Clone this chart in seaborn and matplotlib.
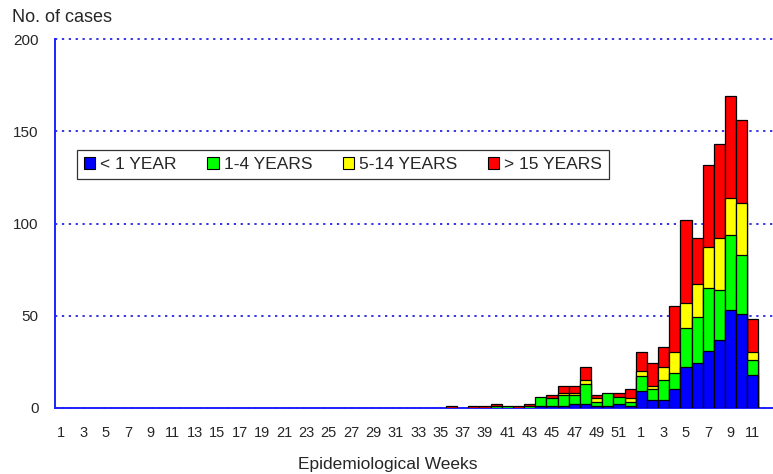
import numpy as np
import pandas as pd
import matplotlib
matplotlib.use('Agg')
import matplotlib.pyplot as plt
from matplotlib.patches import Patch
import seaborn as sns

# week labels: weeks 1-52 of the first year, then 1-12 of the next
weeks = [str(w) for w in range(1, 53)] + [str(w) for w in range(1, 13)]

# no cases at all during weeks 1-35
lead = [0] * 35
under_1 = lead + [0, 0, 0, 0, 0, 0, 0, 0, 1, 1, 1, 2, 2, 1, 1, 2, 1,
                  9, 4, 4, 10, 22, 24, 31, 37, 53, 51, 18, 0]
age_1_4 = lead + [0, 0, 0, 0, 1, 1, 0, 1, 5, 4, 6, 5, 11, 2, 7, 4, 2,
                  8, 6, 11, 9, 21, 25, 34, 27, 41, 32, 8, 0]
age_5_14 = lead + [0, 0, 0, 0, 0, 0, 0, 0, 0, 0, 1, 1, 2, 2, 0, 0, 2,
                   3, 2, 7, 11, 14, 18, 22, 28, 20, 28, 4, 0]
over_15 = lead + [1, 0, 1, 1, 1, 0, 1, 1, 0, 2, 4, 4, 7, 2, 0, 2, 5,
                  10, 12, 11, 25, 45, 25, 45, 51, 55, 45, 18, 0]

groups = ['< 1 YEAR', '1-4 YEARS', '5-14 YEARS', '> 15 YEARS']
colors = ['#0000ff', '#00ff00', '#ffff00', '#ff0000']

df = pd.DataFrame({'pos': np.arange(len(weeks)),
                   groups[0]: under_1, groups[1]: age_1_4,
                   groups[2]: age_5_14, groups[3]: over_15})
cum = df[groups].cumsum(axis=1)

sns.set_style('white')
plt.rcParams['font.family'] = ['Liberation Sans', 'DejaVu Sans']

fig = plt.figure(figsize=(7.73, 4.74), dpi=100)
ax = fig.add_axes([55.4 / 773, 66.3 / 474, (773 - 55.4) / 773, (407.7 - 39.3) / 474])

# draw from the top group down; each bar reaches the cumulative total of its group
for g, c in reversed(list(zip(groups, colors))):
    keep = df[g] > 0
    layer = pd.DataFrame({'pos': df['pos'][keep], 'cases': cum[g][keep]})
    sns.barplot(data=layer, x='pos', y='cases', native_scale=True, color=c,
                saturation=1, width=1, edgecolor='black', linewidth=0.9,
                errorbar=None, ax=ax, zorder=3)

ax.set_xlim(-0.5, 63.8)
ax.set_ylim(0, 200)
ax.set_xlabel('')
ax.set_ylabel('')

ax.set_xticks(np.arange(0, 64, 2))
ax.set_xticklabels(weeks[::2], fontsize=10.5)
ax.set_xticks(np.arange(-0.5, 64, 1), minor=True)
ax.tick_params(axis='x', which='major', length=0, pad=13.5)
ax.tick_params(axis='x', which='minor', length=4, width=1, color='#2020ff', direction='out')
ax.set_yticks([0, 50, 100, 150, 200])
ax.set_yticklabels(['0', '50', '100', '150', '200'], fontsize=11)
ax.tick_params(axis='y', length=5, width=1, color='#2020ff', direction='out', pad=7)

ax.set_axisbelow(True)
ax.yaxis.grid(True, color='#0000dd', linestyle=(0, (1.5, 3)), linewidth=1.1)
for gl in ax.get_ygridlines():
    gl.set_clip_on(False)
ax.xaxis.grid(False)
for s in ['top', 'right']:
    ax.spines[s].set_visible(False)
for s in ['left', 'bottom']:
    ax.spines[s].set_color('#2020ff')
    ax.spines[s].set_linewidth(1.4)

handles = [Patch(facecolor=c, edgecolor='black', linewidth=0.8) for c in colors]
leg = ax.legend(handles, groups, ncol=4, loc='upper left', bbox_to_anchor=(0.030, 0.6995),
                frameon=True, fancybox=False, edgecolor='black', fontsize=12.5,
                handlelength=0.65, handleheight=0.65, handletextpad=0.3,
                columnspacing=1.75, borderpad=0.4, borderaxespad=0)
leg.get_frame().set_linewidth(0.9)

fig.text(12 / 773, 1 - 18 / 474, 'No. of cases', fontsize=13, va='center', ha='left')
fig.text(388 / 773, 1 - 464 / 474, 'Epidemiological Weeks', fontsize=12.5,
         va='center', ha='center')

fig.savefig('out.png', dpi=100)
